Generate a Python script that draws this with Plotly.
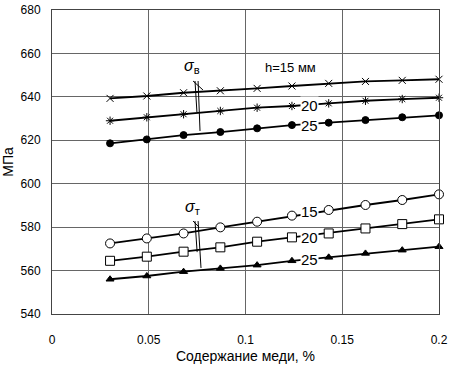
import plotly.graph_objects as go

cu = [0.03, 0.049, 0.068, 0.087, 0.106, 0.124, 0.143, 0.162, 0.181, 0.2]
sb_15 = [639.3, 640.4, 641.9, 642.8, 643.9, 645.0, 646.2, 647.1, 647.6, 648.1]
sb_20 = [629.0, 630.6, 632.0, 633.5, 635.0, 635.8, 637.0, 638.2, 639.0, 639.6]
sb_25 = [618.6, 620.4, 622.4, 623.8, 625.5, 627.0, 628.1, 629.3, 630.6, 631.5]
st_15 = [572.5, 574.8, 577.1, 579.9, 582.5, 585.3, 587.9, 590.2, 592.5, 595.1]
st_20 = [564.5, 566.4, 568.7, 570.7, 573.3, 575.3, 577.1, 579.4, 581.4, 583.6]
st_25 = [556.0, 557.5, 559.5, 561.0, 562.5, 564.5, 566.1, 567.9, 569.4, 571.0]

x_ticks = [0, 0.05, 0.1, 0.15, 0.2]
x_tick_labels = ["0", "0.05", "0.1", "0.15", "0.2"]
y_ticks = [540, 560, 580, 600, 620, 640, 660, 680]

FONT = "Liberation Sans, Arial, sans-serif"

fig = go.Figure()

def add(y, symbol, size, fill="black", lw=1):
    fig.add_trace(go.Scatter(
        x=cu, y=y, mode="lines+markers",
        line=dict(color="black", width=1.8),
        marker=dict(symbol=symbol, size=size, color=fill,
                    line=dict(color="black", width=lw)),
        showlegend=False, hoverinfo="skip", cliponaxis=False))

add(sb_15, "x-thin-open", 7, lw=1)
add(sb_20, "asterisk-open", 7, lw=1)
add(sb_25, "circle", 7)
add(st_15, "circle", 9, fill="white", lw=1)
add(st_20, "square", 9, fill="white", lw=1)
add(st_25, "triangle-up", 7)

# leader lines
leaders = [
    ((0.0729, 647.3), (0.078, 643.2)),
    ((0.0739, 647.3), (0.0749, 633.0)),
    ((0.0755, 647.3), (0.0765, 624.3)),
    ((0.0729, 582.8), (0.076, 580.0)),
    ((0.0739, 582.8), (0.075, 568.5)),
    ((0.0755, 582.8), (0.077, 561.2)),
]
for (x0, y0), (x1, y1) in leaders:
    fig.add_shape(type="line", x0=x0, y0=y0, x1=x1, y1=y1,
                  line=dict(color="black", width=1))

font_lbl = dict(family=FONT, size=15, color="black")
labels = [
    (0.133, 636.2, "20"), (0.133, 626.6, "25"),
    (0.133, 587.1, "15"), (0.133, 575.3, "20"), (0.133, 565.3, "25"),
]
for x, y, t in labels:
    fig.add_annotation(x=x, y=y, text=t, showarrow=False, font=font_lbl,
                       bgcolor="white", borderpad=0)
fig.add_annotation(x=0.123, y=653.3, text="h=15 мм", showarrow=False,
                   font=dict(family=FONT, size=13, color="black"))
fig.add_annotation(x=0.0725, y=648.5, text="<i>σ</i><sub>в</sub>", showarrow=False,
                   yanchor="bottom", font=dict(family=FONT, size=16, color="black"))
fig.add_annotation(x=0.0725, y=583.8, text="<i>σ</i><sub>т</sub>", showarrow=False,
                   yanchor="bottom", font=dict(family=FONT, size=16, color="black"))

axis_font = dict(family=FONT, size=12, color="black")
fig.update_layout(
    width=461, height=367,
    margin=dict(l=52, r=22, t=10, b=53, autoexpand=False),
    paper_bgcolor="white", plot_bgcolor="white",
    xaxis=dict(range=[0, 0.2], tickvals=x_ticks, ticktext=x_tick_labels,
               showgrid=True, gridcolor="#666666", gridwidth=1,
               showline=True, linecolor="#444444", linewidth=1, mirror=True,
               zeroline=False, ticks="", tickfont=axis_font, ticklabelstandoff=15,
               automargin=False,
               title=dict(text="Содержание меди, %", font=dict(family=FONT, size=14, color="black"), standoff=4)),
    yaxis=dict(range=[540, 680], tickvals=y_ticks,
               showgrid=True, gridcolor="#666666", gridwidth=1,
               showline=True, linecolor="#444444", linewidth=1, mirror=True,
               zeroline=False, ticks="", tickfont=axis_font, ticklabelstandoff=8,
               automargin=False,
               title=dict(text="МПа", font=dict(family=FONT, size=14, color="black"), standoff=6)),
)

fig.write_html("out.html", config={"displayModeBar": False},
               post_script="document.body.style.margin='0';")
